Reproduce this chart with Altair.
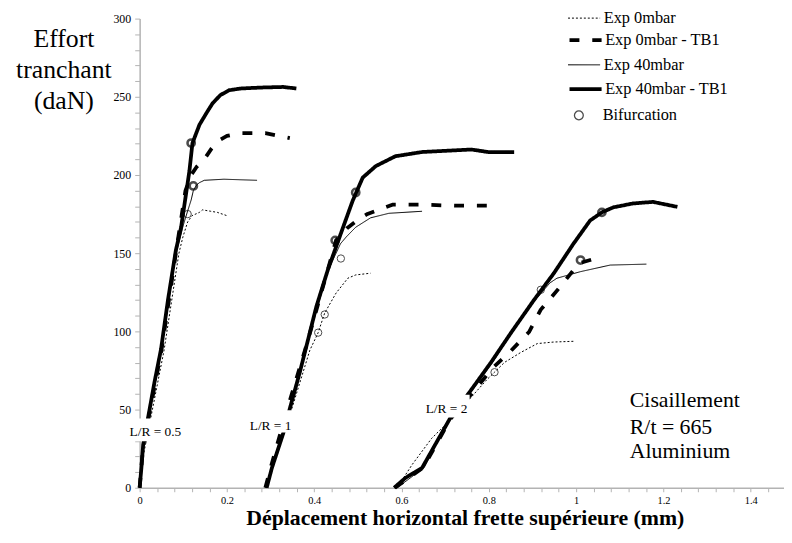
import altair as alt
import pandas as pd

# ---------------- data ----------------
series_names = ["Exp 0mbar", "Exp 0mbar - TB1", "Exp 40mbar", "Exp 40mbar - TB1"]
series_dash = [[2, 2], [10, 13], [1, 0], [1, 0]]
series_width = [1.0, 3.8, 1.0, 3.8]

# L/R = 0.5
x05_0 = [0.0, 0.008, 0.025, 0.056, 0.09, 0.099, 0.11, 0.12, 0.137, 0.144, 0.163, 0.178, 0.2]
y05_0 = [0, 20, 44, 88, 150, 160.3, 170, 174, 176.1, 177.7, 176.8, 176.1, 174]
x05_0tb = [0.0, 0.006, 0.02, 0.05, 0.083, 0.105, 0.118, 0.13, 0.148, 0.165, 0.178, 0.2, 0.231, 0.288, 0.344]
y05_0tb = [0, 20, 44, 88, 150, 190, 200, 205, 210, 217, 221.5, 225, 226.8, 226.8, 223.6]
x05_40 = [0.0, 0.006, 0.02, 0.05, 0.082, 0.1, 0.11, 0.118, 0.123, 0.13, 0.137, 0.148, 0.193, 0.269]
y05_40 = [0, 20, 44, 88, 148, 168, 177, 184, 190, 193.5, 195.1, 196.6, 197.3, 196.6]
x05_40tb = [0.0, 0.004, 0.008, 0.019, 0.034, 0.049, 0.065, 0.083, 0.095, 0.114, 0.121, 0.137, 0.155,
            0.167, 0.185, 0.205, 0.231, 0.276, 0.329, 0.359]
y05_40tb = [0, 12.7, 27.4, 44.3, 67.5, 88.6, 120.3, 151.9, 166.6, 202.5, 220.4, 232.1, 240.5,
            245.8, 251.1, 254.2, 255.3, 255.9, 256.3, 255.3]

# L/R = 1
x1_0 = [0.29, 0.305, 0.348, 0.39, 0.409, 0.424, 0.45, 0.477, 0.495, 0.529]
y1_0 = [0, 12.7, 50, 88, 99.2, 111.8, 124.5, 134, 136.1, 137.2]
x1_0tb = [0.288, 0.3, 0.338, 0.382, 0.45, 0.475, 0.503, 0.522, 0.547, 0.579, 0.647, 0.721, 0.798]
y1_0tb = [0, 12.7, 50, 91, 158.2, 166, 172, 175.1, 177.7, 181, 181, 180.4, 180.4]
x1_40 = [0.29, 0.302, 0.343, 0.387, 0.43, 0.46, 0.473, 0.495, 0.529, 0.571, 0.647]
y1_40 = [0, 12.7, 50, 95, 138, 156, 160.3, 166.6, 172.6, 175.5, 176.8]
x1_40tb = [0.291, 0.303, 0.329, 0.344, 0.367, 0.386, 0.405, 0.431, 0.458, 0.488, 0.511, 0.541,
           0.586, 0.647, 0.76, 0.798, 0.858]
y1_40tb = [0, 12.7, 34.8, 50.6, 73.9, 94.9, 116, 139.2, 160.3, 183.5, 198.3, 205.7,
           212, 214.7, 216.3, 214.7, 214.7]

# L/R = 2
x2_0 = [0.59, 0.624, 0.669, 0.715, 0.76, 0.795, 0.813, 0.836, 0.873, 0.911, 0.949, 0.998]
y2_0 = [0, 14.7, 31.6, 44.3, 58, 69, 73.9, 80.2, 86.5, 92.2, 93.2, 93.7]
x2_0tb = [0.585, 0.65, 0.712, 0.76, 0.81, 0.847, 0.892, 0.919, 0.964, 1.006, 1.051]
y2_0tb = [0, 13, 44, 60, 77, 86.5, 99.6, 113.9, 128.7, 143.5, 147.2]
x2_40 = [0.59, 0.652, 0.71, 0.758, 0.808, 0.852, 0.9, 0.94, 0.956, 1.01, 1.078, 1.161]
y2_40 = [0, 13, 44.5, 61, 80, 99, 118, 131, 134, 138.2, 142.4, 143]
x2_40tb = [0.583, 0.609, 0.647, 0.711, 0.756, 0.805, 0.851, 0.904, 0.949, 0.994, 1.032, 1.059,
           1.085, 1.13, 1.176, 1.232]
y2_40tb = [0, 6.3, 12.7, 44.3, 61.2, 80.2, 99.2, 120.3, 137.2, 156.1, 170.9, 176.1,
           179.3, 181.8, 182.8, 179.6]

# Bifurcation points
bif_x = [0.118, 0.123, 0.11, 0.495, 0.448, 0.461, 0.424, 0.409, 1.059, 1.01, 0.919, 0.813]
bif_y = [220.4, 193, 175, 188.8, 158.2, 146.6, 110.8, 99.2, 176.1, 145.6, 126.6, 73.9]
bif_thick = [True, True, False, True, True, False, False, False, True, True, False, False]

# Annotations
ann_text = ["L/R = 0.5", "L/R = 1", "L/R = 2"]
ann_x = [0.036, 0.3, 0.703]
ann_y = [35.4, 39.7, 50.6]
box_x1 = [-0.024, 0.253, 0.654]
box_x2 = [0.098, 0.35, 0.756]
box_y1 = [29.7, 35.4, 44.9]
box_y2 = [44.3, 49.6, 59.5]

note_lines = ["Cisaillement", "R/t = 665", "Aluminium"]
note_x = [1.123, 1.123, 1.123]
note_y = [55.9, 39.0, 23.2]

x_tick_values = [round(i * 0.04, 2) for i in range(0, 37)]
x_label_values = [0, 0.2, 0.4, 0.6, 0.8, 1, 1.2, 1.4]
y_tick_values = list(range(0, 301, 10))
y_label_values = [0, 50, 100, 150, 200, 250, 300]

# ---------------- tables ----------------
curve_sets = {
    series_names[0]: [(x05_0, y05_0), (x1_0, y1_0), (x2_0, y2_0)],
    series_names[1]: [(x05_0tb, y05_0tb), (x1_0tb, y1_0tb), (x2_0tb, y2_0tb)],
    series_names[2]: [(x05_40, y05_40), (x1_40, y1_40), (x2_40, y2_40)],
    series_names[3]: [(x05_40tb, y05_40tb), (x1_40tb, y1_40tb), (x2_40tb, y2_40tb)],
}
group_names = ["L/R=0.5", "L/R=1", "L/R=2"]

bif = pd.DataFrame({"x": bif_x, "y": bif_y, "thick": bif_thick, "kind": "Bifurcation"})
ann = pd.DataFrame({"t": ann_text, "x": ann_x, "y": ann_y,
                    "x1": box_x1, "x2": box_x2, "y1": box_y1, "y2": box_y2})
note = pd.DataFrame({"t": note_lines, "x": note_x, "y": note_y})

FONT = "Liberation Serif"
x_scale = alt.Scale(domain=[0, 1.4762], nice=False, zero=False)
y_scale = alt.Scale(domain=[0, 300], nice=False, zero=False)

x_label_js = "[" + ",".join(str(v) for v in x_label_values) + "]"
y_label_js = "[" + ",".join(str(v) for v in y_label_values) + "]"

x_axis = alt.Axis(values=x_tick_values, format=".1~f",
                  labelExpr=f"indexof({x_label_js}, datum.value) >= 0 ? datum.label : ''",
                  title="Déplacement horizontal frette supérieure (mm)",
                  titleFont=FONT, titleFontSize=22, titleFontWeight="bold", titleColor="black",
                  titleX=328.5, titleY=37, titleAlign="center", titleBaseline="alphabetic",
                  labelFont=FONT, labelFontSize=10.5, labelColor="black", labelPadding=4,
                  labelOverlap=False, labelFlush=False, grid=False,
                  domainColor="#b3b3b3", domainWidth=1.5, tickColor="#b3b3b3", tickSize=4)
y_axis = alt.Axis(values=y_tick_values,
                  labelExpr=f"indexof({y_label_js}, datum.value) >= 0 ? datum.label : ''",
                  title=["Effort", "tranchant", "(daN)"], titleAngle=0, titleX=-77, titleY=28,
                  titleAlign="center", titleBaseline="alphabetic", titleFont=FONT, titleFontSize=26,
                  titleFontWeight="normal", titleLineHeight=31.5, titleColor="black",
                  labelFont=FONT, labelFontSize=12, labelColor="black", labelPadding=4,
                  labelOverlap=False, grid=False,
                  domainColor="#b3b3b3", domainWidth=1.5, tickColor="#b3b3b3", tickSize=5)


def X(field):
    return alt.X(field, scale=x_scale, axis=x_axis)


def Y(field):
    return alt.Y(field, scale=y_scale, axis=y_axis)


legend_y = [-17.5, 3.3, 29.7, 52.8]
legend_label_offset = [2.8, 1.3, 2.8, 1.3]

line_layers = []
for k, s in enumerate(series_names):
    rows = []
    for g, (xs, ys) in zip(group_names, curve_sets[s]):
        for i, (xv, yv) in enumerate(zip(xs, ys)):
            rows.append({"curve": g, "series": s, "x": xv, "y": yv, "idx": i})
    d = pd.DataFrame(rows)
    leg = alt.Legend(title=None, orient="none", legendX=432, legendY=legend_y[k],
                     symbolType="stroke", symbolSize=1050, symbolStrokeColor="black",
                     symbolStrokeWidth=series_width[k],
                     labelFont=FONT, labelFontSize=16.5, labelColor="black",
                     labelOffset=legend_label_offset[k])
    layer = alt.Chart(d).mark_line(color="black", strokeJoin="round",
                                   strokeWidth=series_width[k]).encode(
        x=X("x:Q"), y=Y("y:Q"),
        detail="curve:N", order="idx:Q",
        strokeDash=alt.StrokeDash("series:N",
                                  scale=alt.Scale(domain=[s], range=[series_dash[k]]),
                                  legend=leg),
    )
    line_layers.append(layer)

boxes = alt.Chart(ann).mark_rect(color="white").encode(
    x=X("x1:Q"), x2="x2:Q", y=Y("y1:Q"), y2="y2:Q")

ann_text_layer = alt.Chart(ann).mark_text(font=FONT, fontSize=13.5, color="black",
                                          align="center", baseline="middle").encode(
    x=X("x:Q"), y=Y("y:Q"), text="t:N")

shape_legend = alt.Legend(title=None, orient="none", legendX=435.5, legendY=89.5,
                          symbolSize=80, symbolStrokeWidth=1.3, symbolStrokeColor="black",
                          symbolFillColor="transparent",
                          labelFont=FONT, labelFontSize=16.5, labelColor="black", labelOffset=15.8)

pts_thin = alt.Chart(bif).transform_filter("!datum.thick").mark_point(
    filled=False, color="black", strokeWidth=1, size=55).encode(
    x=X("x:Q"), y=Y("y:Q"),
    shape=alt.Shape("kind:N", scale=alt.Scale(domain=["Bifurcation"], range=["circle"]),
                    legend=shape_legend))
pts_thick = alt.Chart(bif).transform_filter("datum.thick").mark_point(
    filled=False, color="black", strokeWidth=2.5, size=55).encode(
    x=X("x:Q"), y=Y("y:Q"),
    shape=alt.Shape("kind:N", scale=alt.Scale(domain=["Bifurcation"], range=["circle"]),
                    legend=shape_legend))

note_layer = alt.Chart(note).mark_text(font=FONT, fontSize=22, color="black",
                                       align="left", baseline="middle").encode(
    x=X("x:Q"), y=Y("y:Q"), text="t:N")

chart = alt.layer(*line_layers, boxes, ann_text_layer, pts_thin, pts_thick, note_layer).resolve_scale(
    strokeDash="independent"
).resolve_legend(strokeDash="independent").properties(
    width=651, height=474, autosize="none",
    padding={"left": 133, "top": 8, "right": 0, "bottom": 45},
    background="white",
).configure_view(stroke=None)

chart.save("out.html", embed_options={"renderer": "svg", "actions": False})
